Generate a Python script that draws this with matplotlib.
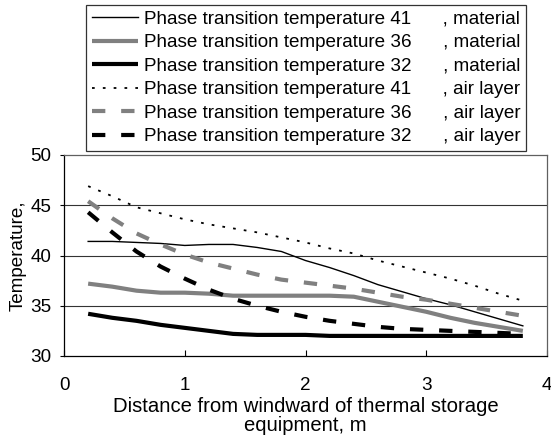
import matplotlib
matplotlib.use("Agg")
import matplotlib.pyplot as plt

plt.rcParams['font.family'] = ['Liberation Sans', 'DejaVu Sans']

x = [0.2, 0.4, 0.6, 0.8, 1.0, 1.2, 1.4, 1.6, 1.8, 2.0, 2.2, 2.4, 2.6, 2.8, 3.0, 3.2, 3.4, 3.6, 3.8]
mat41 = [41.4, 41.4, 41.3, 41.2, 41.0, 41.1, 41.1, 40.8, 40.4, 39.5, 38.8, 38.0, 37.1, 36.4, 35.7, 35.1, 34.4, 33.7, 33.0]
mat36 = [37.2, 36.9, 36.5, 36.3, 36.3, 36.2, 36.0, 36.0, 36.0, 36.0, 36.0, 35.9, 35.4, 34.9, 34.4, 33.8, 33.3, 32.9, 32.5]
mat32 = [34.2, 33.8, 33.5, 33.1, 32.8, 32.5, 32.2, 32.1, 32.1, 32.1, 32.0, 32.0, 32.0, 32.0, 32.0, 32.0, 32.0, 32.0, 32.0]
air41 = [46.9, 45.9, 44.8, 44.2, 43.6, 43.1, 42.7, 42.3, 41.8, 41.3, 40.7, 40.2, 39.5, 38.9, 38.3, 37.7, 37.0, 36.2, 35.5]
air36 = [45.4, 43.7, 42.2, 41.1, 40.1, 39.3, 38.7, 38.1, 37.6, 37.3, 37.0, 36.7, 36.3, 35.9, 35.6, 35.2, 34.8, 34.4, 34.0]
air32 = [44.3, 42.3, 40.4, 38.9, 37.7, 36.6, 35.7, 35.0, 34.4, 33.9, 33.5, 33.2, 32.9, 32.7, 32.6, 32.5, 32.4, 32.3, 32.2]

labels = [
    "Phase transition temperature 41      , material",
    "Phase transition temperature 36      , material",
    "Phase transition temperature 32      , material",
    "Phase transition temperature 41      , air layer",
    "Phase transition temperature 36      , air layer",
    "Phase transition temperature 32      , air layer",
]
xticks = [0, 1, 2, 3, 4]
yticks = [30, 35, 40, 45, 50]

FS = 13.6
W, H = 551, 443
fig = plt.figure(figsize=(W / 100, H / 100), dpi=100)
ax = fig.add_axes([64 / W, 1 - 356 / H, (547 - 64) / W, (356 - 155) / H])

gray = '#808080'
l1, = ax.plot(x, mat41, color='black', lw=1.0, label=labels[0])
l2, = ax.plot(x, mat36, color=gray, lw=3.0, label=labels[1], solid_capstyle='butt')
l3, = ax.plot(x, mat32, color='black', lw=3.0, label=labels[2], solid_capstyle='butt')
l4, = ax.plot(x, air41, color='black', lw=1.3, linestyle=(0, (1.5, 4.5)), label=labels[3])
l5, = ax.plot(x, air36, color=gray, lw=3.0, linestyle=(0, (3.2, 3.8)), label=labels[4], dash_capstyle='butt')
l6, = ax.plot(x, air32, color='black', lw=3.0, linestyle=(0, (3.2, 3.8)), label=labels[5], dash_capstyle='butt')

ax.set_xlim(0, 4)
ax.set_ylim(30, 50)
ax.set_xticks(xticks)
ax.set_yticks(yticks)
ax.set_xticklabels([str(v) for v in xticks], fontsize=FS)
ax.set_yticklabels([str(v) for v in yticks], fontsize=FS)
ax.tick_params(axis='x', direction='in', length=4, width=0.8, pad=15)
ax.tick_params(axis='y', direction='out', length=3, width=0.8, pad=6)
for yv in [35, 40, 45]:
    ax.axhline(yv, color='#333333', lw=0.8, zorder=0)
ax.spines['left'].set_color('black')
ax.spines['bottom'].set_color('black')
ax.spines['top'].set_color('#606060')
ax.spines['right'].set_color('#606060')
for s in ax.spines.values():
    s.set_linewidth(0.9)

ax.set_ylabel("Temperature,", fontsize=FS, labelpad=3)
ax.set_xlabel("Distance from windward of thermal storage\nequipment, m", fontsize=14.6, labelpad=2, linespacing=1.0)

leg = fig.legend(handles=[l1, l2, l3, l4, l5, l6], loc='upper left',
                 bbox_to_anchor=(86 / W, 1 - 5 / H), fontsize=FS, frameon=True, fancybox=False,
                 borderpad=0.3, labelspacing=0.33, handlelength=2.45, handletextpad=0.3,
                 borderaxespad=0)
leg.get_frame().set_edgecolor('black')
leg.get_frame().set_linewidth(0.9)

fig.savefig("out.png", dpi=100)
